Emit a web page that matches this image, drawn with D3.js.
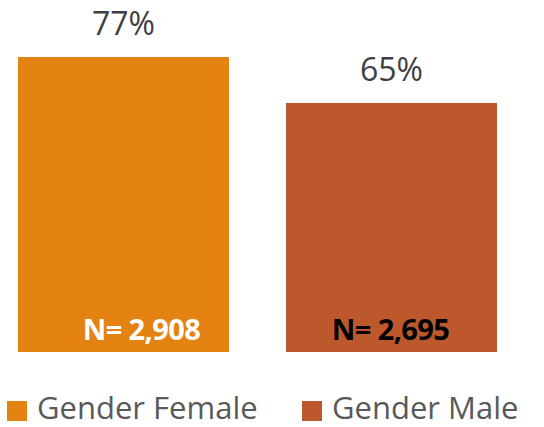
<!DOCTYPE html>
<html>
<head>
<meta charset="utf-8">
<script src="https://cdn.jsdelivr.net/npm/d3@7"></script>
<style>
  body { margin: 0; background: #fff; }
  text { font-family: "Open Sans", sans-serif; }
</style>
</head>
<body>
<div id="chart"></div>
<script>
var categories = ["Gender Female", "Gender Male"];
var percents = [77, 65];
var counts = ["N= 2,908", "N= 2,695"];
var colors = ["#E48312", "#BD582C"];
var countColors = ["#ffffff", "#000000"];

var width = 544, height = 427;

var svg = d3.select("#chart").append("svg")
    .attr("width", width)
    .attr("height", height);

var x = d3.scaleBand()
    .domain(categories)
    .range([18, 497])
    .paddingInner(0.213)
    .paddingOuter(0);

var y = d3.scaleLinear()
    .domain([0, 77])
    .range([352, 57]);

var bars = svg.selectAll(".bar")
    .data(categories)
    .enter().append("g")
    .attr("class", "bar");

bars.append("rect")
    .attr("x", function (d) { return x(d); })
    .attr("y", function (d, i) { return y(percents[i]); })
    .attr("width", x.bandwidth())
    .attr("height", function (d, i) { return y(0) - y(percents[i]); })
    .style("fill", function (d, i) { return colors[i]; });

// value labels above bars
bars.append("text")
    .attr("x", function (d) { return x(d) + x.bandwidth() / 2; })
    .attr("y", function (d, i) { return y(percents[i]) - 22; })
    .attr("text-anchor", "middle")
    .style("font-size", "32px")
    .style("fill", "#404040")
    .text(function (d, i) { return percents[i] + "%"; });

// N labels inside bars
var nOffset = [18, -1];
bars.append("text")
    .attr("x", function (d, i) { return x(d) + x.bandwidth() / 2 + nOffset[i]; })
    .attr("y", 340)
    .attr("text-anchor", "middle")
    .style("font-size", "29px")
    .style("font-weight", "bold")
    .style("letter-spacing", "-0.6px")
    .style("fill", function (d, i) { return countColors[i]; })
    .text(function (d, i) { return counts[i]; });

// legend
var legendX = [7, 302];
var legend = svg.selectAll(".legend")
    .data(categories)
    .enter().append("g")
    .attr("class", "legend")
    .attr("transform", function (d, i) { return "translate(" + legendX[i] + ",401)"; });

legend.append("rect")
    .attr("width", 20)
    .attr("height", 20)
    .style("fill", function (d, i) { return colors[i]; });

legend.append("text")
    .attr("x", 30)
    .attr("y", 18)
    .style("font-size", "31px")
    .style("fill", "#595959")
    .text(function (d) { return d; });
</script>
</body>
</html>
